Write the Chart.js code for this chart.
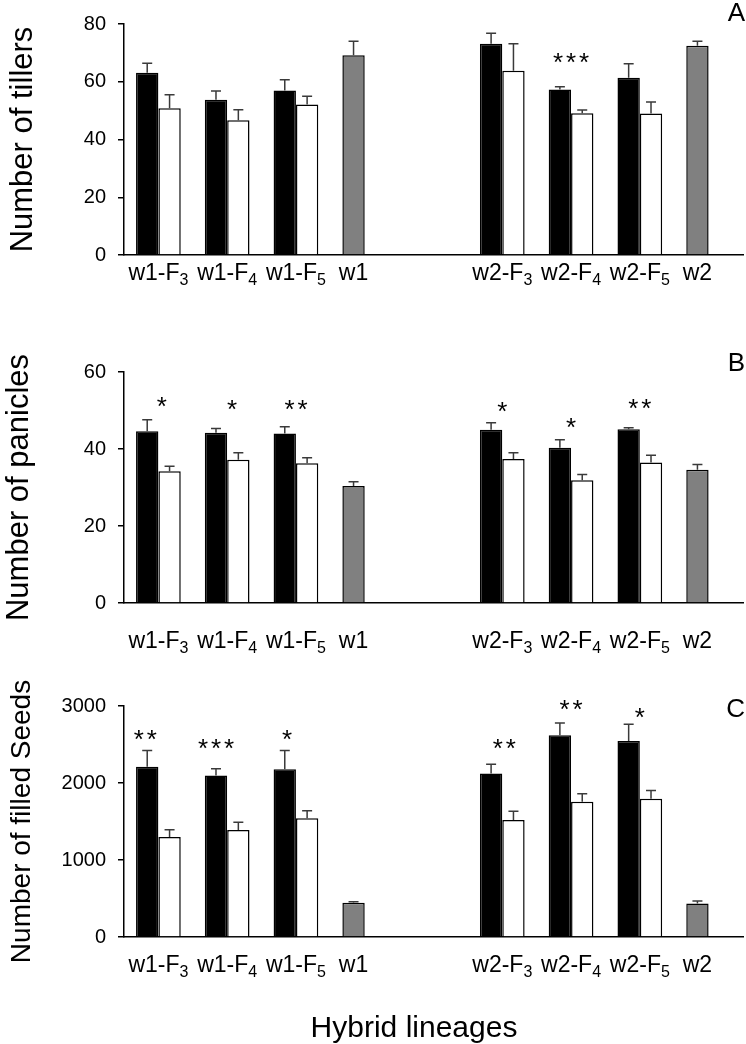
<!DOCTYPE html>
<html><head><meta charset="utf-8">
<script src="https://cdn.jsdelivr.net/npm/chart.js@4.4.0/dist/chart.umd.min.js"></script>
<style>
html,body{margin:0;padding:0;background:#fff;}
#wrap{position:relative;width:746px;height:1044px;overflow:hidden;background:#fff;}
canvas{position:absolute;left:0;top:0;}
</style></head><body>
<div id="wrap">
<canvas id="cA" width="746" height="1044"></canvas>
<canvas id="cB" width="746" height="1044"></canvas>
<canvas id="cC" width="746" height="1044"></canvas>
</div>
<script>
// ---- categories (index 4 is the empty gap between the two families) ----
const categories = ['w1-F3','w1-F4','w1-F5','w1','','w2-F3','w2-F4','w2-F5','w2'];

// ---- Panel A: number of tillers ----
const tillersBlack    = [63.1, 53.8, 57.0, null, null, 73.2, 57.3, 61.4, null];
const tillersBlackSE  = [3.3, 3.0, 3.7, null, null, 3.6, 1.0, 4.8, null];
const tillersWhite    = [50.8, 46.7, 52.1, null, null, 63.8, 49.1, 49.0, null];
const tillersWhiteSE  = [4.7, 3.6, 2.9, null, null, 9.4, 1.1, 4.0, null];
const tillersParent   = [null, null, null, 69.2, null, null, null, null, 72.5];
const tillersParentSE = [null, null, null, 4.8, null, null, null, null, 1.5];
const tillersStars    = ['', '', '', '', '', '', '***', '', ''];
const tillersStarLevel= [null, null, null, null, null, null, 68.6, null, null];
const tillersStarShift= [0, 0, 0, 0, 0, 0, 0, 0, 0];
const tillersTicks    = [0, 20, 40, 60, 80];

// ---- Panel B: number of panicles ----
const panBlack    = [44.6, 44.2, 44.0, null, null, 45.0, 40.3, 45.1, null];
const panBlackSE  = [3.0, 1.1, 1.8, null, null, 1.8, 2.1, 0.4, null];
const panWhite    = [34.2, 37.2, 36.3, null, null, 37.4, 31.9, 36.5, null];
const panWhiteSE  = [1.3, 1.8, 1.4, null, null, 1.6, 1.5, 1.9, null];
const panParent   = [null, null, null, 30.4, null, null, null, null, 34.6];
const panParentSE = [null, null, null, 1.1, null, null, null, null, 1.4];
const panStars    = ['*', '*', '**', '', '', '*', '*', '**', ''];
const panStarLevel= [52.6, 51.8, 51.8, null, null, 51.3, 47.1, 52.1, null];
const panStarShift= [0.05, 0.07, 0, 0, 0, 0, 0, 0, 0];
const panTicks    = [0, 20, 40, 60];

// ---- Panel C: number of filled seeds ----
const seedBlack    = [2210, 2098, 2180, null, null, 2124, 2620, 2547, null];
const seedBlackSE  = [212, 86, 242, null, null, 121, 160, 216, null];
const seedWhite    = [1299, 1390, 1541, null, null, 1519, 1757, 1795, null];
const seedWhiteSE  = [95, 100, 99, null, null, 113, 103, 109, null];
const seedParent   = [null, null, null, 444, null, null, null, null, 435];
const seedParentSE = [null, null, null, 14, null, null, null, null, 31];
const seedStars    = ['**', '***', '*', '', '', '**', '**', '*', ''];
const seedStarLevel= [2646, 2530, 2646, null, null, 2530, 3035, 2932, null];
const seedStarShift= [-0.19, -0.16, -0.13, 0, 0, 0.03, 0, 0, 0];
const seedTicks    = [0, 1000, 2000, 3000];

const FONT = "'Liberation Sans', Arial, Helvetica, sans-serif";

const extras = {
  id: 'extras',
  afterDatasetsDraw(chart) {
    const o = chart.options.plugins.extras;
    const ctx = chart.ctx, xs = chart.scales.x, ys = chart.scales.y;
    const area = chart.chartArea;
    ctx.save();
    // error bars
    chart.data.datasets.forEach((ds, di) => {
      const meta = chart.getDatasetMeta(di);
      meta.data.forEach((el, i) => {
        const v = ds.data[i], e = ds.se[i];
        if (v == null || e == null) return;
        const x0 = el.x, yt = ys.getPixelForValue(v), yu = ys.getPixelForValue(v + e);
        ctx.strokeStyle = '#3a3a3a';
        ctx.lineWidth = 1.5;
        ctx.beginPath();
        ctx.moveTo(x0, yt); ctx.lineTo(x0, yu);
        ctx.moveTo(x0 - 5, yu); ctx.lineTo(x0 + 5, yu);
        ctx.stroke();
      });
    });
    // significance stars
    ctx.fillStyle = '#000';
    ctx.font = '26px ' + FONT;
    ctx.textAlign = 'center';
    ctx.textBaseline = 'alphabetic';
    o.stars.forEach((s, i) => {
      if (!s) return;
      const cx = xs.getPixelForValue(i + o.starShift[i]);
      const cy = ys.getPixelForValue(o.starLevel[i]);
      const n = s.length, gap = 13;
      for (let k = 0; k < n; k++) {
        ctx.fillText('*', cx + (k - (n - 1) / 2) * gap, cy + 14.5);
      }
    });
    // x tick labels with subscripts
    const meta0 = chart.getDatasetMeta(0);
    categories.forEach((c, i) => {
      if (!c) return;
      const m = c.match(/^(.*F)(\d)$/);
      const main = m ? m[1] : c, sub = m ? m[2] : '';
      let cx = xs.getPixelForValue(i);
      if (o.parent[i] != null) cx = meta0.data[i].x;
      ctx.font = '23px ' + FONT;
      const w1 = ctx.measureText(main).width;
      ctx.font = '16px ' + FONT;
      const w2 = sub ? ctx.measureText(sub).width : 0;
      const left = cx - (w1 + w2) / 2;
      ctx.textAlign = 'left';
      ctx.font = '23px ' + FONT;
      ctx.fillText(main, left, o.labelBaseline);
      if (sub) {
        ctx.font = '16px ' + FONT;
        ctx.fillText(sub, left + w1, o.labelBaseline + 5);
      }
    });
    // y-axis title
    ctx.save();
    ctx.translate(o.titleX, (area.top + area.bottom) / 2);
    ctx.rotate(-Math.PI / 2);
    ctx.textAlign = 'center';
    ctx.font = o.titleSize + 'px ' + FONT;
    ctx.fillText(o.title, 0, 0);
    ctx.restore();
    // panel letter
    ctx.textAlign = 'right';
    ctx.font = '26px ' + FONT;
    ctx.fillText(o.letter, 745, o.letterY);
    // overall x title
    if (o.xTitle) {
      ctx.textAlign = 'center';
      ctx.font = '30px ' + FONT;
      ctx.fillText(o.xTitle, 414, 1037);
    }
    ctx.restore();
  }
};

function makeChart(id, P) {
  const d0 = P.black.map((v, i) => v != null ? v : P.parent[i]);
  const se0 = P.blackSE.map((v, i) => v != null ? v : P.parentSE[i]);
  const c0 = P.parent.map(v => v != null ? '#808080' : '#000000');
  return new Chart(document.getElementById(id), {
    type: 'bar',
    data: {
      labels: categories,
      datasets: [
        { data: d0, se: se0, backgroundColor: c0, borderColor: '#000', borderWidth: 1.5,
          categoryPercentage: 0.65, barPercentage: 1 },
        { data: P.white, se: P.whiteSE, backgroundColor: '#ffffff', borderColor: '#000', borderWidth: 1.5,
          categoryPercentage: 0.65, barPercentage: 1 }
      ]
    },
    options: {
      responsive: false, animation: false, devicePixelRatio: 1,
      layout: { padding: { top: P.top, right: 3, left: 0, bottom: 1044 - P.bottom } },
      plugins: {
        legend: { display: false }, tooltip: { enabled: false },
        extras: {
          stars: P.stars, starLevel: P.starLevel, starShift: P.starShift, parent: P.parent,
          labelBaseline: P.labelBaseline, title: P.title, titleSize: P.titleSize, titleX: P.titleX,
          letter: P.letter, letterY: P.letterY, xTitle: P.xTitle
        }
      },
      scales: {
        x: {
          offset: true,
          grid: { display: false },
          border: { display: true, color: '#000', width: 1.5 },
          ticks: { display: false },
          afterFit: s => { s.height = 0; }
        },
        y: {
          min: P.ticks[0], max: P.ticks[P.ticks.length - 1],
          afterBuildTicks: s => { s.ticks = P.ticks.map(v => ({ value: v })); },
          ticks: { color: '#000', font: { family: FONT, size: 20 }, padding: 12,
                   callback: v => String(v) },
          grid: { drawOnChartArea: false, drawTicks: true, tickLength: 6, color: '#000', lineWidth: 1.5 },
          border: { display: true, color: '#000', width: 1.5 },
          afterFit: s => { s.width = 124; }
        }
      }
    },
    plugins: [extras]
  });
}

makeChart('cA', {
  black: tillersBlack, blackSE: tillersBlackSE, white: tillersWhite, whiteSE: tillersWhiteSE,
  parent: tillersParent, parentSE: tillersParentSE, stars: tillersStars, starLevel: tillersStarLevel,
  starShift: tillersStarShift, ticks: tillersTicks,
  top: 23, bottom: 255, labelBaseline: 280, title: 'Number of tillers', titleSize: 31, titleX: 32,
  letter: 'A', letterY: 21
});
makeChart('cB', {
  black: panBlack, blackSE: panBlackSE, white: panWhite, whiteSE: panWhiteSE,
  parent: panParent, parentSE: panParentSE, stars: panStars, starLevel: panStarLevel,
  starShift: panStarShift, ticks: panTicks,
  top: 372, bottom: 603, labelBaseline: 648, title: 'Number of panicles', titleSize: 31, titleX: 28,
  letter: 'B', letterY: 371
});
makeChart('cC', {
  black: seedBlack, blackSE: seedBlackSE, white: seedWhite, whiteSE: seedWhiteSE,
  parent: seedParent, parentSE: seedParentSE, stars: seedStars, starLevel: seedStarLevel,
  starShift: seedStarShift, ticks: seedTicks,
  top: 706, bottom: 937, labelBaseline: 972, title: 'Number of filled Seeds', titleSize: 28, titleX: 30,
  letter: 'C', letterY: 717, xTitle: 'Hybrid lineages'
});
</script>
</body></html>
